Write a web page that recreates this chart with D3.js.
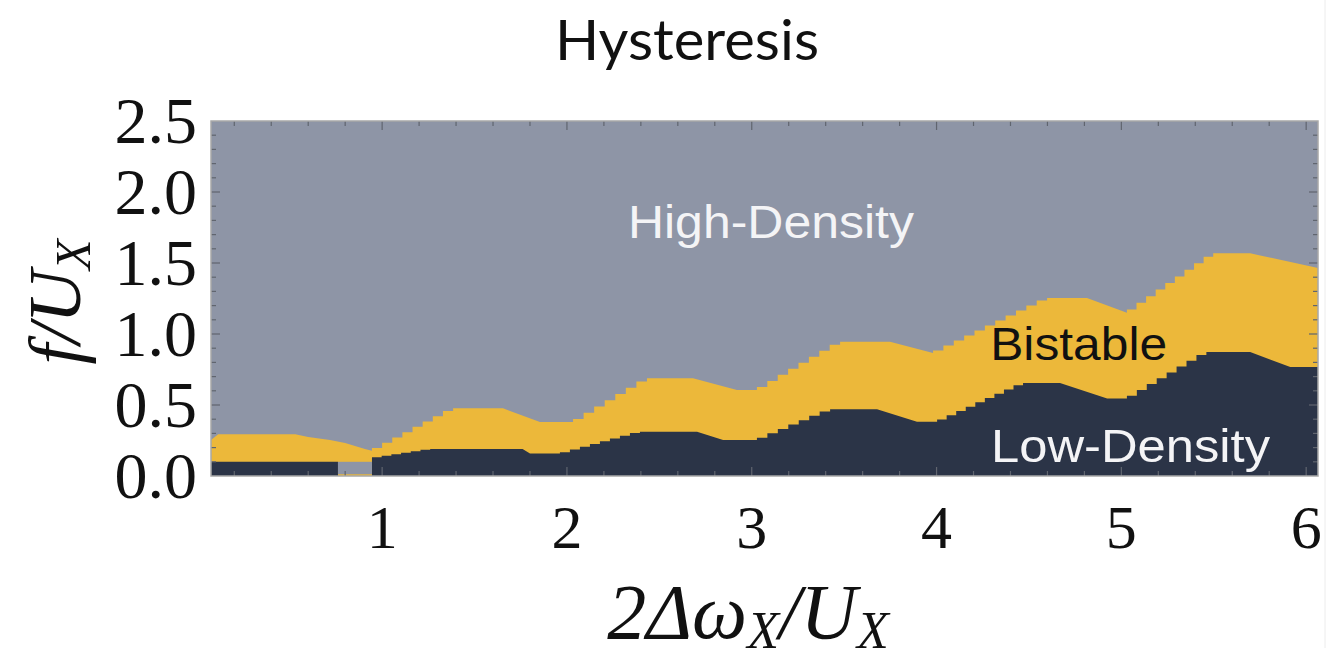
<!DOCTYPE html>
<html>
<head>
<meta charset="utf-8">
<script src="https://cdn.jsdelivr.net/npm/d3@7"></script>
<style>
  html, body { margin: 0; padding: 0; background: #ffffff; }
  svg { display: block; }
</style>
</head>
<body>
<svg id="chart" width="1342" height="648"></svg>
<script>
// ---------------- data ----------------
const chartTitle = "Hysteresis";
const xDomain = [0.074, 6.064];
const yDomain = [0, 2.5];
const xTickValues = [1, 2, 3, 4, 5, 6];
const yTickValues = [0, 0.5, 1.0, 1.5, 2.0, 2.5];
const yTickLabels = ["0.0", "0.5", "1.0", "1.5", "2.0", "2.5"];

// upper boundary of the bistable region (Bistable / High-Density)
const upperX = [0.074, 0.113, 0.53, 0.60, 0.718, 0.80, 0.907, 0.945, 1.384,
                1.654, 1.854, 2.033, 2.433, 2.682, 2.92, 3.028, 3.478, 3.748, 3.981, 4.598, 4.814, 5.03, 5.497, 5.697, 6.064];
const upperY = [0.254, 0.294, 0.294, 0.275, 0.254, 0.232, 0.19, 0.178, 0.477,
                0.477, 0.38, 0.38, 0.688, 0.688, 0.606, 0.606, 0.946, 0.946, 0.866, 1.254, 1.254, 1.15, 1.568, 1.568, 1.465];

// lower boundary of the bistable region (Low-Density / Bistable)
const lowerX = [0.074, 0.761, 0.761, 0.945, 0.945, 1.26, 1.76, 1.80, 1.962, 2.395, 2.704, 2.845, 3.028,
                3.424, 3.678, 3.894, 4.003, 4.468, 4.668, 4.923, 5.03, 5.46, 5.697, 5.914, 6.064];
const lowerY = [0.10, 0.10, 0.0, 0.0, 0.127, 0.19, 0.19, 0.158, 0.158, 0.312, 0.312, 0.254, 0.254,
                0.47, 0.47, 0.382, 0.382, 0.655, 0.655, 0.545, 0.545, 0.873, 0.873, 0.768, 0.768];

// small high-density patch near x ~ 0.85
const gapX = [0.761, 0.945];
const gapY = [0.012, 0.10];

const regionNames = ["High-Density", "Bistable", "Low-Density"];

// ---------------- layout ----------------
const W = 1342, H = 648;
const plot = { left: 211, right: 1318, top: 121, bottom: 476 };
const colors = { high: "#8e95a6", bistable: "#ecb83a", low: "#2b3447" };

const svg = d3.select("#chart");
const x = d3.scaleLinear().domain(xDomain).range([plot.left, plot.right]);
const y = d3.scaleLinear().domain(yDomain).range([plot.bottom, plot.top]);

// staircase rendering of rising segments (pixelated region boundary)
function boundaryPoints(xs, ys) {
  const pts = [];
  for (let i = 0; i < xs.length; i++) {
    const p0 = [x(xs[i]), y(ys[i])];
    pts.push(p0);
    if (i < xs.length - 1) {
      const p1 = [x(xs[i + 1]), y(ys[i + 1])];
      const dx = p1[0] - p0[0], dy = p1[1] - p0[1];
      if (ys[i + 1] > ys[i] + 0.03 && dx > 8) {
        const k = Math.max(1, Math.round(dx / 10));
        const w = dx / k;
        for (let j = 0; j < k; j++) {
          const lev = p0[1] + dy * (j + 0.5) / k;
          pts.push([p0[0] + w * j, lev]);
          pts.push([p0[0] + w * (j + 1), lev]);
        }
      }
    }
  }
  return pts;
}

svg.append("defs").append("clipPath").attr("id", "plotclip")
  .append("rect").attr("x", plot.left).attr("y", plot.top)
  .attr("width", plot.right - plot.left).attr("height", plot.bottom - plot.top);

const g = svg.append("g").attr("clip-path", "url(#plotclip)");

// high-density background
g.append("rect").attr("x", x(xDomain[0])).attr("y", y(yDomain[1]))
  .attr("width", x(xDomain[1]) - x(xDomain[0])).attr("height", y(yDomain[0]) - y(yDomain[1]))
  .attr("fill", colors.high);

const area = d3.area().x(d => d[0]).y0(y(0)).y1(d => d[1]).curve(d3.curveLinear);

g.append("path").attr("d", area(boundaryPoints(upperX, upperY))).attr("fill", colors.bistable);
g.append("path").attr("d", area(boundaryPoints(lowerX, lowerY))).attr("fill", colors.low);

g.append("rect").attr("x", x(gapX[0])).attr("y", y(gapY[1]))
  .attr("width", x(gapX[1]) - x(gapX[0])).attr("height", y(gapY[0]) - y(gapY[1]))
  .attr("fill", colors.high);

// ticks on all four sides (inward)
const tickCol = "#60656f";
const ticks = svg.append("g").attr("stroke", tickCol).attr("stroke-width", 1.2);
const xMinor = d3.range(0.2, 6.01, 0.2).filter(v => v >= xDomain[0] && v <= xDomain[1]);
const yMinor = d3.range(0.1, 2.41, 0.1);
xMinor.forEach(v => {
  const major = Math.abs(v - Math.round(v)) < 1e-6;
  const len = major ? 9 : 5;
  ticks.append("line").attr("x1", x(v)).attr("x2", x(v)).attr("y1", plot.bottom).attr("y2", plot.bottom - len);
  ticks.append("line").attr("x1", x(v)).attr("x2", x(v)).attr("y1", plot.top).attr("y2", plot.top + len);
});
yMinor.forEach(v => {
  const major = Math.abs(v * 2 - Math.round(v * 2)) < 1e-6;
  const len = major ? 9 : 5;
  ticks.append("line").attr("x1", plot.left).attr("x2", plot.left + len).attr("y1", y(v)).attr("y2", y(v));
  ticks.append("line").attr("x1", plot.right).attr("x2", plot.right - len).attr("y1", y(v)).attr("y2", y(v));
});

// frame
svg.append("rect").attr("x", plot.left).attr("y", plot.top)
  .attr("width", plot.right - plot.left).attr("height", plot.bottom - plot.top)
  .attr("fill", "none").attr("stroke", "#a8a8a8").attr("stroke-width", 1.5);

// faint line at far right
svg.append("line").attr("x1", 1325).attr("x2", 1325).attr("y1", 0).attr("y2", H)
  .attr("stroke", "#ececec").attr("stroke-width", 1);

// tick labels
const serif = "'Liberation Serif', 'DejaVu Serif', serif";
svg.append("g").selectAll("text").data(xTickValues).join("text")
  .attr("x", d => x(d)).attr("y", 548)
  .attr("text-anchor", "middle")
  .attr("font-family", serif).attr("font-size", 62).attr("fill", "#111")
  .text(d => d);

svg.append("g").selectAll("text").data(yTickValues).join("text")
  .attr("x", 197).attr("y", d => y(d)).attr("dy", "0.34em")
  .attr("text-anchor", "end")
  .attr("font-family", serif).attr("font-size", 66).attr("fill", "#111")
  .text((d, i) => yTickLabels[i]);

// axis titles
const xt = svg.append("text").attr("x", 748).attr("y", 638).attr("text-anchor", "middle")
  .attr("font-family", serif).attr("font-style", "italic").attr("font-size", 78).attr("fill", "#111");
xt.append("tspan").text("2Δω");
xt.append("tspan").attr("font-size", 52).attr("dy", 10).text("X");
xt.append("tspan").attr("dy", -10).text("/U");
xt.append("tspan").attr("font-size", 52).attr("dy", 10).text("X");

const yt = svg.append("text").attr("transform", "translate(80,302) rotate(-90)")
  .attr("text-anchor", "middle")
  .attr("font-family", serif).attr("font-style", "italic").attr("font-size", 74).attr("fill", "#111");
yt.append("tspan").text("f/U");
yt.append("tspan").attr("font-size", 50).attr("dy", 10).text("X");

// title
svg.append("text").attr("x", 687).attr("y", 60).attr("text-anchor", "middle")
  .attr("font-family", "Lato, 'Open Sans', sans-serif").attr("font-size", 56).attr("fill", "#111")
  .attr("textLength", 264).attr("lengthAdjust", "spacingAndGlyphs")
  .text(chartTitle);

// region labels
const sans = "'Liberation Sans', Arial, sans-serif";
svg.append("text").attr("x", x(2.33)).attr("y", 238).attr("font-family", sans).attr("font-size", 46)
  .attr("fill", "#f4f4f6").attr("textLength", 286).attr("lengthAdjust", "spacingAndGlyphs").text(regionNames[0]);
svg.append("text").attr("x", x(4.29)).attr("y", 360).attr("font-family", sans).attr("font-size", 46)
  .attr("fill", "#111").attr("textLength", 177).attr("lengthAdjust", "spacingAndGlyphs").text(regionNames[1]);
svg.append("text").attr("x", x(4.295)).attr("y", 462).attr("font-family", sans).attr("font-size", 46)
  .attr("fill", "#f4f4f6").attr("textLength", 279).attr("lengthAdjust", "spacingAndGlyphs").text(regionNames[2]);
</script>
</body>
</html>
